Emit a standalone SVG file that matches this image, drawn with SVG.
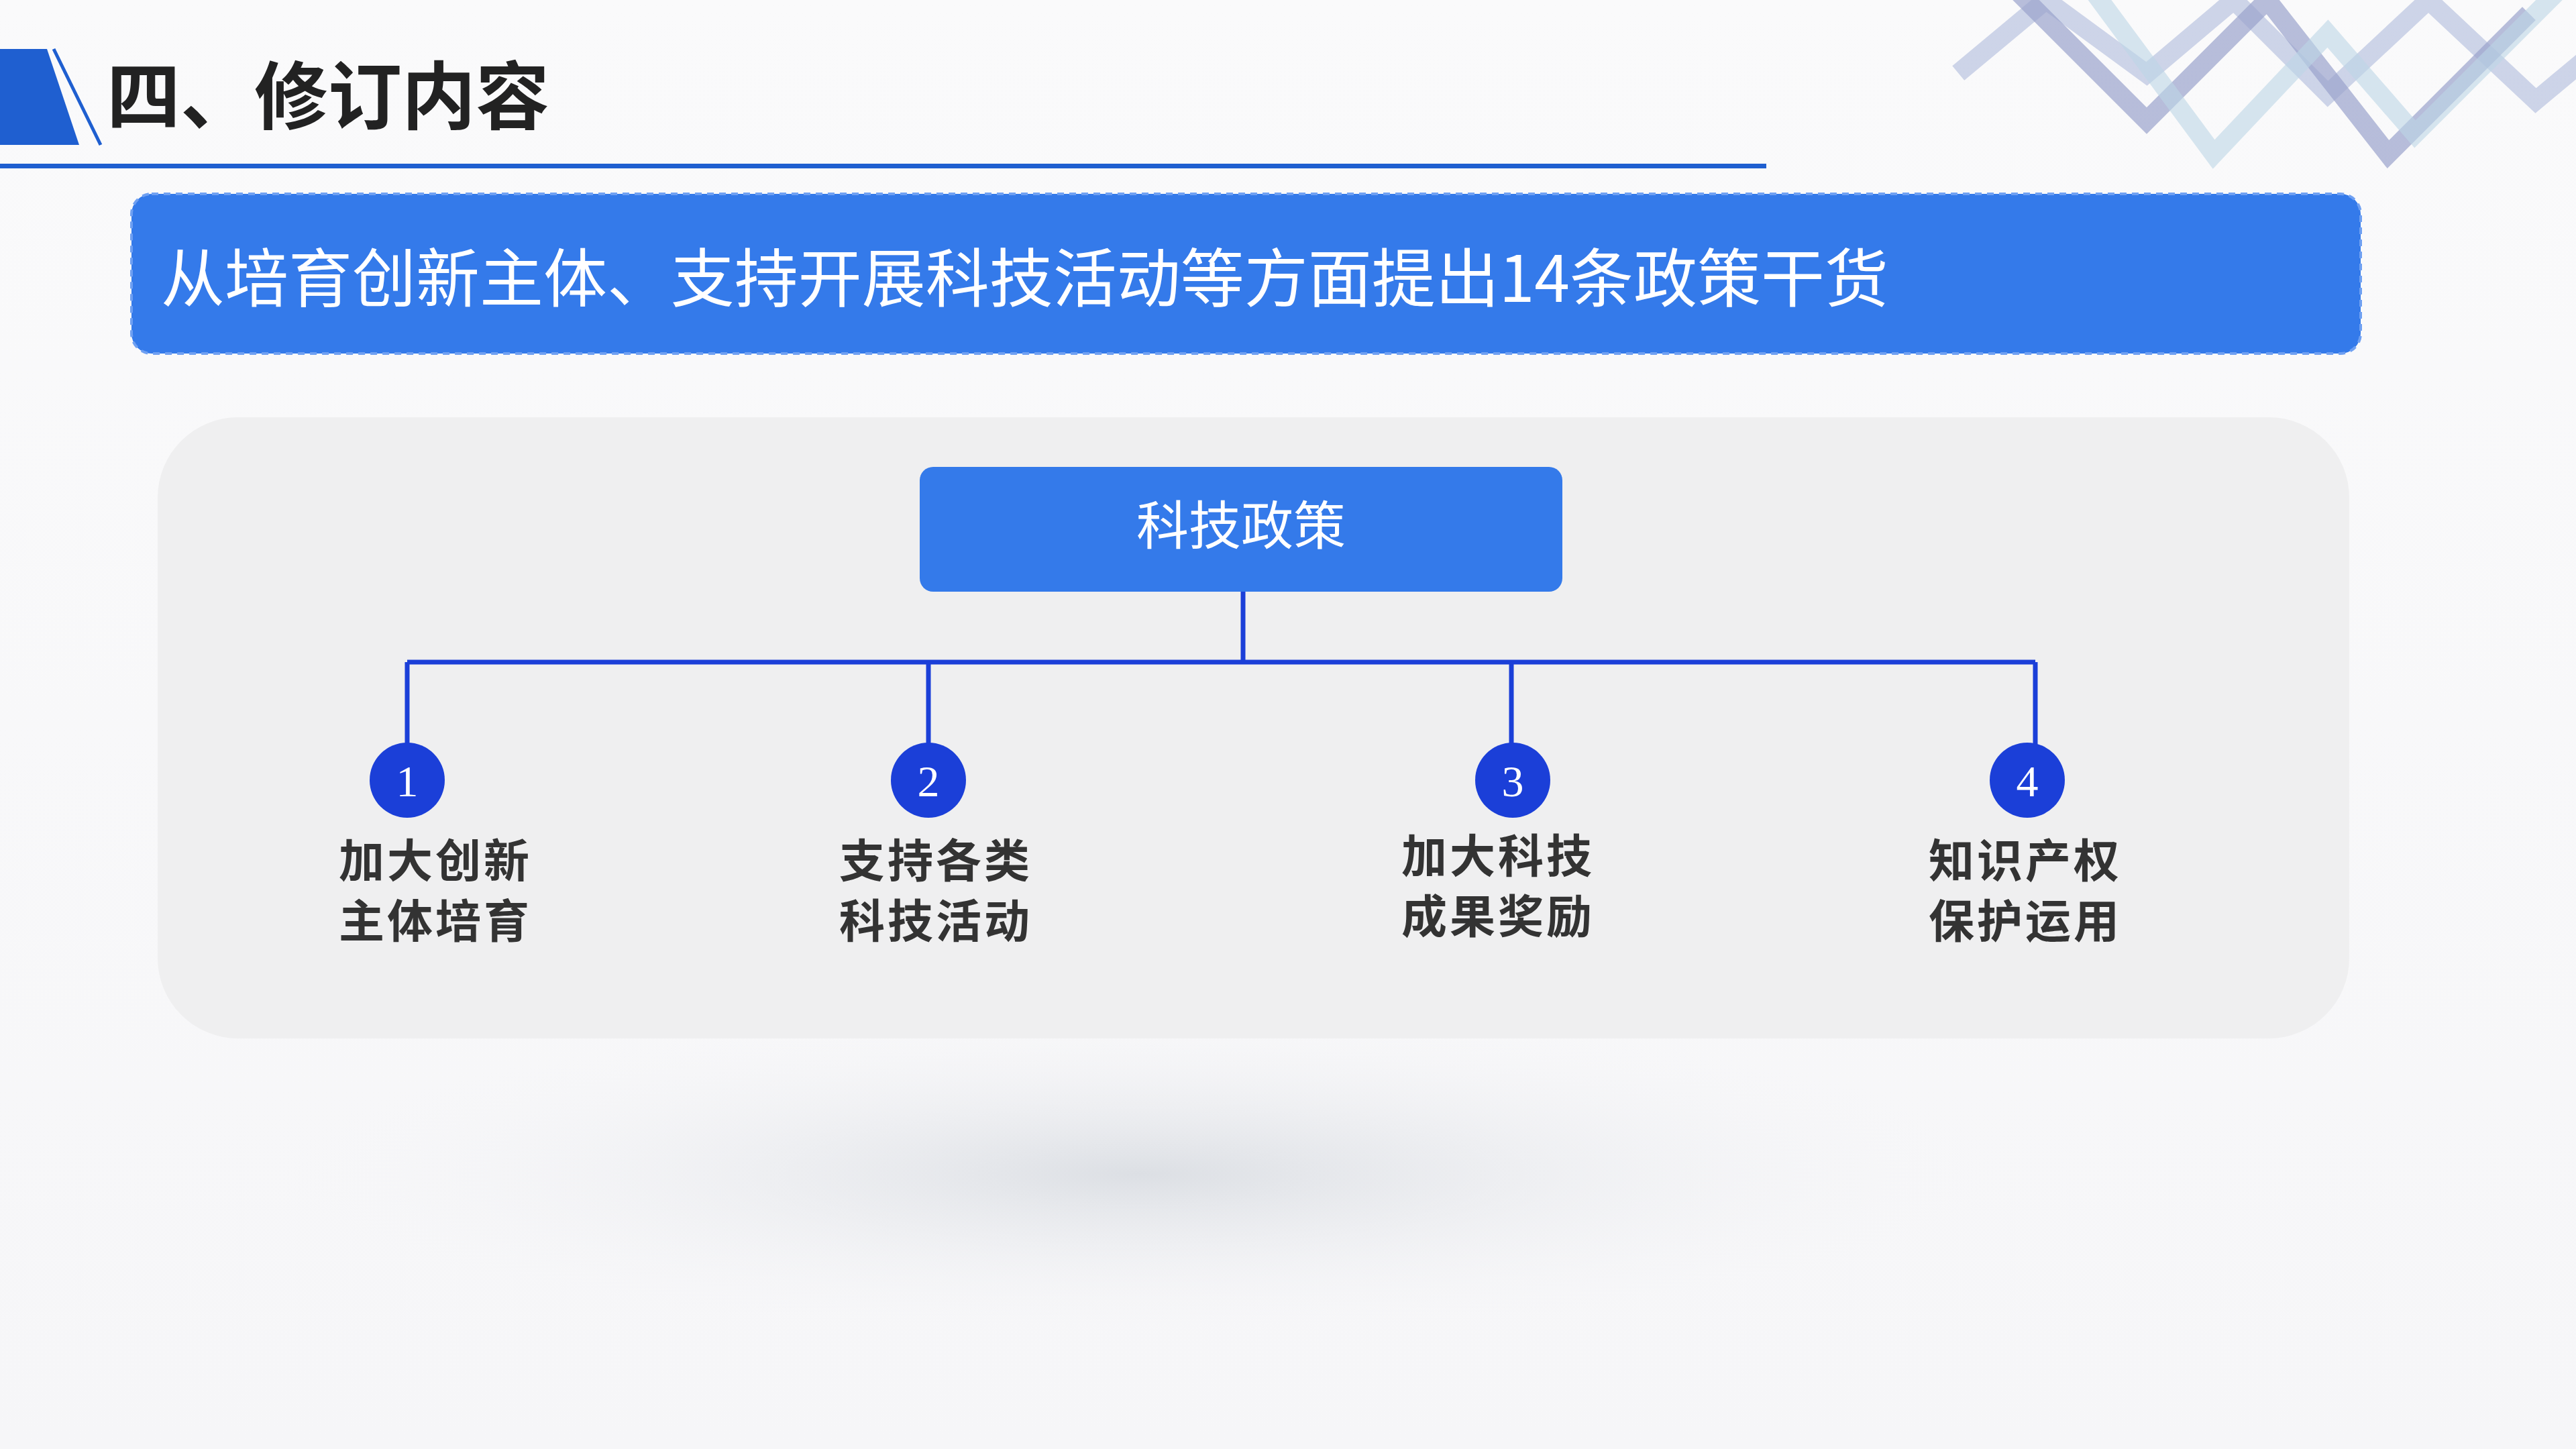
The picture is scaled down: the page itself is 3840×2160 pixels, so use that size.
<svg xmlns="http://www.w3.org/2000/svg" width="3840" height="2160" viewBox="0 0 3840 2160">
<defs>
<style>
.cjk{font-family:"Noto Sans CJK SC","Noto Sans",sans-serif}
.lbl{font-family:"Noto Sans CJK SC",sans-serif;font-size:68px;font-weight:700;fill:#333}
.num{font-family:"Liberation Serif",serif;font-size:66px;fill:#fff;text-anchor:middle}
.circ{fill:#1b3fd8}
.conn{stroke:#1b3fd8;stroke-width:7;fill:none}
</style>
<linearGradient id="bg" x1="0" y1="0" x2="0" y2="1"><stop offset="0" stop-color="#fafafb"/><stop offset="1" stop-color="#f6f6f8"/></linearGradient>
<radialGradient id="sh" cx="0.5" cy="0.5" r="0.5"><stop offset="0" stop-color="#dcdfe4"/><stop offset="1" stop-color="#f6f6f8" stop-opacity="0"/></radialGradient>
</defs>
<rect width="3840" height="2160" fill="url(#bg)"/>
<ellipse cx="1700" cy="1750" rx="1300" ry="240" fill="url(#sh)"/>
<g id="deco" fill="none" stroke-width="28" stroke-linecap="square">
<polyline points="2930,100 3050,0 3200,110 3330,0 3470,140 3620,0 3780,150 3840,100" stroke="#b9c3e0" opacity="0.7"/>
<polyline points="3020,0 3200,180 3380,0 3560,230 3760,30" stroke="#9aa2cc" opacity="0.7"/>
<polyline points="3130,0 3300,230 3470,50 3600,200 3800,0" stroke="#bcd6e6" opacity="0.6"/>
</g>
<g id="title">
<polygon points="0,73 70,73 118,216 0,216" fill="#1f5fd0"/>
<line x1="80" y1="73" x2="150" y2="216" stroke="#1f5fd0" stroke-width="5"/>
<text x="159" y="184" class="cjk" font-size="110" font-weight="700" fill="#222">四、修订内容</text>
<rect x="0" y="244" width="2633" height="7" fill="#1f5fd0"/>
</g>
<g id="banner">
<rect x="196" y="289" width="3323" height="238" rx="30" fill="#347aea" stroke="#6fa0f2" stroke-width="4" stroke-dasharray="10 8"/>
<text x="240" y="450" class="cjk" font-size="95" fill="#fff" textLength="2575">从培育创新主体、支持开展科技活动等方面提出14条政策干货</text>
</g>
<rect id="panel" x="235" y="622" width="3267" height="926" rx="120" fill="#efeff0"/>
<g id="connectors">
<path class="conn" d="M1853,882V987M607,987H3034M607,987V1115M1384,987V1115M2253,987V1115M3034,987V1115"/>
</g>
<g id="root">
<rect x="1371" y="696" width="958" height="186" rx="20" fill="#347aea"/>
<text x="1850" y="812" class="cjk" font-size="78" fill="#fff" text-anchor="middle">科技政策</text>
</g>
<g id="n1"><circle class="circ" cx="607" cy="1163" r="56"/><text class="num" x="607" y="1187">1</text>
<text class="lbl" x="505" y="1308" textLength="284">加大创新</text><text class="lbl" x="505" y="1398" textLength="284">主体培育</text></g>
<g id="n2"><circle class="circ" cx="1384" cy="1163" r="56"/><text class="num" x="1384" y="1187">2</text>
<text class="lbl" x="1251" y="1308" textLength="284">支持各类</text><text class="lbl" x="1251" y="1398" textLength="284">科技活动</text></g>
<g id="n3"><circle class="circ" cx="2255" cy="1163" r="56"/><text class="num" x="2255" y="1187">3</text>
<text class="lbl" x="2089" y="1301" textLength="284">加大科技</text><text class="lbl" x="2089" y="1391" textLength="284">成果奖励</text></g>
<g id="n4"><circle class="circ" cx="3022" cy="1163" r="56"/><text class="num" x="3022" y="1187">4</text>
<text class="lbl" x="2875" y="1308" textLength="284">知识产权</text><text class="lbl" x="2875" y="1398" textLength="284">保护运用</text></g>
</svg>
